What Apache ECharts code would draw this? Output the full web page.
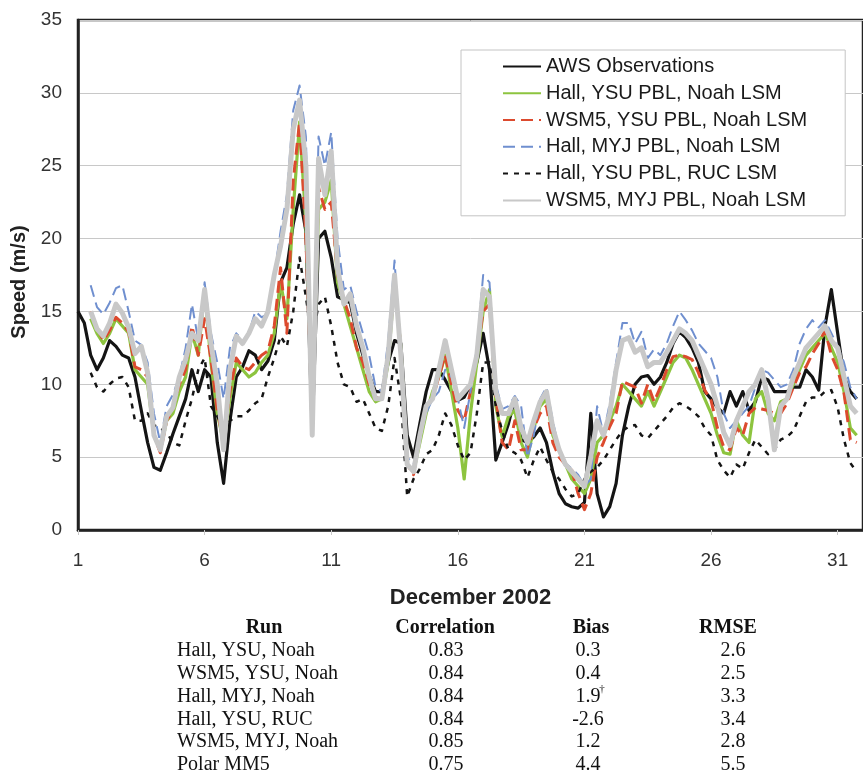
<!DOCTYPE html>
<html><head><meta charset="utf-8">
<script src="https://cdn.jsdelivr.net/npm/echarts@6/dist/echarts.min.js"></script>
<style>html,body{margin:0;padding:0;background:#fff}#c{width:863px;height:780px}</style>
</head><body><div id="c"></div>
<script>
// Sample times (day of December 2002)
const days = [
 1.00,1.25,1.50,1.75, 2.00,2.25,2.50,2.75,
 3.00,3.25,3.50,3.75, 4.00,4.25,4.50,4.75,
 5.00,5.25,5.50,5.75, 6.00,6.25,6.50,6.75,
 7.00,7.25,7.50,7.75, 8.00,8.25,8.50,8.75,
 9.00,9.25,9.50,9.75, 10.00,10.25,10.50,10.75,
 11.00,11.25,11.50,11.75, 12.00,12.25,12.50,12.75,
 13.00,13.25,13.50,13.75, 14.00,14.25,14.50,14.75,
 15.00,15.25,15.50,15.75, 16.00,16.25,16.50,16.75,
 17.00,17.25,17.50,17.75, 18.00,18.25,18.50,18.75,
 19.00,19.25,19.50,19.75, 20.00,20.25,20.50,20.75,
 21.00,21.25,21.50,21.75, 22.00,22.25,22.50,22.75,
 23.00,23.25,23.50,23.75, 24.00,24.25,24.50,24.75,
 25.00,25.25,25.50,25.75, 26.00,26.25,26.50,26.75,
 27.00,27.25,27.50,27.75, 28.00,28.25,28.50,28.75,
 29.00,29.25,29.50,29.75, 30.00,30.25,30.50,30.75,
 31.00,31.25,31.50,31.75
];

const awsObs = [
 15.0,14.2,12.0,11.0, 11.8,13.0,12.6,12.0,
 11.8,10.5,8.2,6.0, 4.3,4.1,5.3,6.6,
 7.8,9.0,11.0,9.5, 11.0,10.5,6.0,3.2,
 7.5,10.5,11.2,12.3, 12.0,11.0,11.6,13.0,
 17.0,18.0,21.0,23.0, 20.5,6.7,20.0,20.5,
 18.7,16.0,15.8,15.6, 13.5,12.0,10.6,9.5,
 9.5,11.5,13.0,12.8, 6.5,5.0,7.3,9.5,
 11.0,11.0,10.3,9.5, 8.9,9.1,10.0,11.5,
 13.5,11.0,4.8,6.0, 7.3,9.0,6.2,6.0,
 6.4,7.0,6.0,4.0, 2.5,1.8,1.6,1.5,
 1.9,8.0,2.5,0.9, 1.6,3.2,6.5,8.5,
 10.0,10.5,10.6,10.0, 10.5,11.5,12.8,13.6,
 13.2,12.5,11.5,9.5, 9.0,8.4,8.0,9.5,
 8.5,9.5,8.2,8.8, 10.5,10.3,9.5,9.5,
 9.5,9.8,9.8,11.0, 10.5,9.6,14.0,16.5,
 13.5,10.5,9.5,9.0
];

const hallYsuNoah = [
 null,null,14.5,13.5, 12.8,13.5,14.5,14.0,
 13.5,11.0,10.5,10.0, 6.5,5.5,7.5,8.0,
 9.5,10.5,13.5,12.0, 16.5,11.5,8.0,6.0,
 9.0,11.5,11.0,10.5, 10.8,11.5,12.0,13.5,
 17.0,14.5,22.0,28.0, 21.0,8.0,22.0,22.5,
 24.0,17.0,15.5,14.0, 12.5,11.0,9.5,8.8,
 9.0,11.5,17.0,12.5, 4.5,4.0,6.0,8.0,
 9.5,10.5,12.0,9.5, 7.0,3.5,8.0,11.5,
 15.0,16.5,8.5,6.4, 7.8,8.2,6.0,5.0,
 7.0,8.5,9.0,6.5, 5.5,4.5,3.5,3.0,
 2.5,3.5,6.0,6.5, 7.5,8.5,10.0,9.5,
 9.0,8.5,9.5,8.5, 9.5,10.5,11.5,12.0,
 11.8,11.0,10.0,9.0, 8.0,6.5,5.3,5.2,
 7.5,6.5,6.0,9.0, 9.5,8.0,7.5,8.8,
 9.0,10.0,11.0,12.0, 12.5,13.0,13.5,12.5,
 11.5,9.5,7.0,6.5
];

const wsm5YsuNoah = [
 null,null,15.0,13.9, 13.0,13.7,14.6,14.2,
 13.6,11.2,11.0,10.5, 6.5,5.3,7.5,8.3,
 10.0,11.0,14.0,12.0, 14.5,11.7,8.2,6.0,
 9.5,11.8,11.2,11.0, 11.5,12.0,12.3,14.0,
 18.0,13.5,24.0,28.0, 20.0,7.5,23.5,22.0,
 22.5,17.5,15.8,14.5, 12.5,11.5,10.0,9.0,
 9.2,12.0,17.0,12.5, 4.5,3.8,6.5,8.5,
 9.0,10.5,12.0,10.0, 8.2,7.5,9.5,12.0,
 15.0,15.5,9.0,6.0, 5.5,7.5,5.5,5.5,
 7.0,8.0,8.5,6.0, 5.0,4.5,4.1,2.5,
 1.4,2.5,5.0,6.0, 7.1,8.0,10.2,10.0,
 9.8,8.7,10.0,8.8, 9.8,11.0,11.9,12.0,
 11.9,11.7,10.8,9.6, 8.9,7.0,5.7,5.5,
 7.0,6.5,8.0,8.4, 8.3,8.2,8.0,8.0,
 8.7,9.8,10.8,11.2, 12.1,12.8,13.7,12.0,
 11.0,9.4,6.2,6.0
];

const hallMyjNoah = [
 null,null,16.8,15.3, 14.8,15.6,16.6,16.8,
 15.0,13.0,12.7,11.5, 8.0,6.0,8.5,9.3,
 10.5,12.5,15.5,13.0, 17.0,13.5,11.5,9.0,
 12.5,13.5,13.0,13.5, 15.0,14.6,14.8,17.5,
 20.5,23.0,28.8,30.5, 27.0,8.0,27.0,25.0,
 27.3,20.0,16.5,16.8, 15.0,13.5,12.0,9.8,
 9.5,13.0,18.5,12.0, 5.0,4.5,6.5,8.0,
 9.0,9.5,11.0,10.5, 9.0,7.0,9.5,12.5,
 17.5,17.0,10.0,8.3, 8.5,9.2,8.5,5.0,
 6.5,9.0,9.8,7.5, 5.5,4.6,4.2,3.8,
 3.0,3.5,8.5,6.6, 8.7,11.5,14.2,14.2,
 12.8,13.6,11.8,12.4, 12.0,12.8,14.0,15.0,
 14.4,13.7,12.8,12.3, 11.8,10.5,8.0,7.0,
 7.5,8.0,8.5,9.8, 11.0,10.8,10.3,9.8,
 10.0,11.0,12.8,13.8, 14.4,13.9,14.4,13.5,
 12.6,11.5,9.8,9.0
];

const hallYsuRuc = [
 null,null,10.8,9.8, 9.5,10.0,10.4,10.5,
 9.8,7.5,7.5,8.0, 7.2,7.0,6.7,6.0,
 5.8,7.5,9.0,11.0, 11.8,8.5,7.8,7.0,
 7.5,7.8,7.8,8.2, 8.7,9.0,10.5,11.8,
 13.3,12.6,15.0,18.7, 16.0,13.0,15.5,16.0,
 14.0,11.5,10.0,9.8, 8.8,9.0,8.0,7.0,
 6.8,8.5,11.8,9.0, 2.3,3.5,4.2,5.2,
 5.5,6.5,8.0,7.2, 5.8,4.8,5.3,8.0,
 11.5,11.5,8.5,6.8, 5.5,5.3,4.8,3.6,
 4.8,5.7,4.8,4.0, 3.5,2.8,2.3,2.5,
 3.5,4.0,4.3,4.8, 5.5,6.2,6.8,7.1,
 7.2,6.5,6.3,6.8, 7.3,7.8,8.4,8.7,
 8.5,8.2,7.8,7.0, 6.5,4.8,4.1,3.6,
 4.5,4.2,5.3,6.2, 5.7,5.2,5.5,6.2,
 6.4,6.8,7.8,8.8, 9.1,9.1,9.5,9.6,
 8.4,6.2,4.6,4.0
];

const wsm5MyjNoah = [
 null,null,15.0,13.8, 13.3,14.2,15.5,14.9,
 13.9,12.1,12.6,10.8, 6.5,5.5,7.8,8.4,
 10.5,11.7,13.5,13.0, 16.5,12.8,10.0,5.5,
 11.0,13.3,12.8,13.5, 14.5,14.0,15.0,17.5,
 19.5,22.0,27.5,29.5, 25.0,6.5,25.5,23.0,
 26.0,18.0,15.5,16.2, 14.0,12.5,10.5,9.0,
 9.0,12.0,17.5,12.0, 4.5,4.0,6.5,8.5,
 9.0,11.0,13.0,11.0, 9.0,9.5,10.0,12.0,
 16.5,16.0,9.5,8.0, 8.0,9.0,7.0,6.0,
 7.5,8.8,9.5,7.0, 5.5,4.5,4.0,3.5,
 3.0,5.0,7.5,6.5, 8.0,11.0,13.0,13.2,
 12.2,12.5,11.2,11.5, 11.5,12.2,13.0,13.8,
 13.5,13.0,12.0,11.0, 10.0,8.5,6.7,5.8,
 7.5,8.5,9.5,10.0, 11.0,9.0,5.5,8.5,
 9.0,10.5,11.5,12.5, 13.0,13.5,14.0,13.0,
 12.5,10.5,8.5,8.0
];

const seriesNames = [
 'AWS Observations',
 'Hall, YSU PBL, Noah LSM',
 'WSM5, YSU PBL, Noah LSM',
 'Hall, MYJ PBL, Noah LSM',
 'Hall, YSU PBL, RUC LSM',
 'WSM5, MYJ PBL, Noah LSM'
];
const seriesValues = [awsObs, hallYsuNoah, wsm5YsuNoah, hallMyjNoah, hallYsuRuc, wsm5MyjNoah];

const yTicks = [0,5,10,15,20,25,30,35];
const xTickLabels = [1,6,11,16,21,26,31];

// Statistics table
const tableHeaders = ['Run','Correlation','Bias','RMSE'];
const runNames = ['Hall, YSU, Noah','WSM5, YSU, Noah','Hall, MYJ, Noah','Hall, YSU, RUC','WSM5, MYJ, Noah','Polar MM5'];
const correlations = ['0.83','0.84','0.84','0.84','0.85','0.75'];
const biases = ['0.3','0.4','1.9','-2.6','1.2','4.4'];
const biasNotes = ['','','\u2020','','',''];
const rmses = ['2.6','2.5','3.3','3.4','2.8','5.5'];

const styles = [
 {color:'#141414', width:3.2, type:'solid'},
 {color:'#8dc43f', width:3.2, type:'solid'},
 {color:'#dc4a2e', width:3, type:[12,6]},
 {color:'#6f8fcf', width:2, type:[12,6]},
 {color:'#141414', width:2.5, type:[5,6]},
 {color:'#c8c8c8', width:5, type:'solid'}
];

const series = seriesValues.map((vals, k) => ({
  name: seriesNames[k],
  type: 'line',
  data: days.map((d, i) => [d - 1, vals[i]]),
  showSymbol: false,
  symbol: 'none',
  connectNulls: false,
  lineStyle: {color: styles[k].color, width: styles[k].width, type: styles[k].type, join: 'round', cap: 'butt'},
  itemStyle: {color: styles[k].color},
  emphasis: {disabled: true},
  z: 2 + k
}));

const sans = "'Liberation Sans', Arial, sans-serif";
const serif = "'Liberation Serif', 'Times New Roman', serif";

const colCenters = [264, 445, 591, 728];
const graphics = [];
tableHeaders.forEach((h, j) => {
  graphics.push({type:'text', x: colCenters[j], y: 628,
    style:{text:h, font:"bold 20px " + serif, fill:'#111', textAlign:'center', textVerticalAlign:'middle'}});
});
runNames.forEach((name, i) => {
  const y = 651 + i * 22.8;
  graphics.push({type:'text', x:177, y:y, style:{text:name, font:"20px " + serif, fill:'#111', textAlign:'left', textVerticalAlign:'middle'}});
  graphics.push({type:'text', x:446, y:y, style:{text:correlations[i], font:"20px " + serif, fill:'#111', textAlign:'center', textVerticalAlign:'middle'}});
  graphics.push({type:'text', x:588, y:y, style:{text:biases[i], font:"20px " + serif, fill:'#111', textAlign:'center', textVerticalAlign:'middle'}});
  if (biasNotes[i]) {
    graphics.push({type:'text', x:602, y:y - 7, style:{text:biasNotes[i], font:"11px " + serif, fill:'#111', textAlign:'center', textVerticalAlign:'middle'}});
  }
  graphics.push({type:'text', x:733, y:y, style:{text:rmses[i], font:"20px " + serif, fill:'#111', textAlign:'center', textVerticalAlign:'middle'}});
});

const chart = echarts.init(document.getElementById('c'), null, {renderer:'canvas'});
chart.setOption({
  animation: false,
  backgroundColor: '#ffffff',
  grid: {left:78, top:20, right:-12, bottom:250, show:true, borderColor:'#222', borderWidth:2.5, backgroundColor:'transparent'},
  xAxis: {
    type:'value', min:0, max:31, interval:5,
    name:'December 2002', nameLocation:'middle', nameGap:57,
    nameTextStyle:{fontFamily:sans, fontSize:22, fontWeight:'bold', color:'#222'},
    axisLine:{show:true, lineStyle:{color:'#222', width:2.5}},
    axisTick:{show:true, length:5, lineStyle:{color:'#c8c8c8', width:1}},
    axisLabel:{margin:21, fontFamily:sans, fontSize:19, color:'#333', showMaxLabel:false,
      formatter: v => { const idx = xTickLabels.indexOf(v + 1); return idx >= 0 ? String(xTickLabels[idx]) : ''; }},
    splitLine:{show:false}
  },
  yAxis: {
    type:'value', min:yTicks[0], max:yTicks[yTicks.length-1], interval:5,
    name:'Speed (m/s)', nameLocation:'middle', nameGap:38, nameRotate:90,
    nameTextStyle:{fontFamily:sans, fontSize:20, fontWeight:'bold', color:'#222', padding:[0,14,0,0]},
    axisLine:{show:true, lineStyle:{color:'#222', width:2.5}},
    axisTick:{show:false},
    axisLabel:{margin:16, fontFamily:sans, fontSize:19, color:'#333'},
    splitLine:{show:true, lineStyle:{color:'#c8c8c8', width:1}}
  },
  legend: {
    data: seriesNames,
    orient:'vertical', left:461, top:50,
    padding:[3,38,2,41], itemGap:0, itemWidth:38, itemHeight:14,
    itemStyle:{opacity:0},
    backgroundColor:'#ffffff', borderColor:'#c4c4c4', borderWidth:1, borderRadius:0,
    textStyle:{fontFamily:sans, fontSize:20, color:'#1a1a1a', lineHeight:26.8},
    selectedMode:false
  },
  series: series,
  graphic: graphics
});
</script></body></html>
